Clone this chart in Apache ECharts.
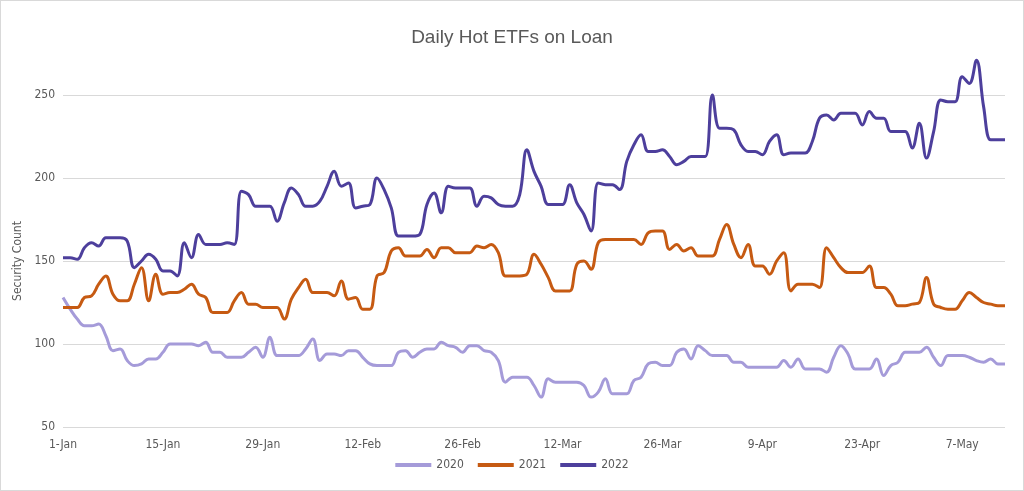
<!DOCTYPE html>
<html lang="en">
<head>
    <meta charset="UTF-8">
    <title>Daily Hot ETFs on Loan</title>
    <script src="https://cdn.jsdelivr.net/npm/echarts@6/dist/echarts.min.js"></script>
    <style>
        html, body { margin: 0; padding: 0; background: #fff; }
        #main { width: 1022px; height: 489px; border: 1px solid #d9d9d9; }
    </style>
</head>
<body>
<div id="main"></div>
<script>
    // one point per calendar day, 1-Jan .. 13-May
    const months = ['Jan', 'Feb', 'Mar', 'Apr', 'May'];
    const monthDays = [31, 28, 31, 30, 13];
    const days = [];
    for (let m = 0; m < months.length; m++) {
        for (let d = 1; d <= monthDays[m]; d++) days.push(d + '-' + months[m]);
    }

    const y2020 = [128,121,115,111,111,112,105,96,97,90,87,88,91,91,95,100,100,100,100,99,101,95,95,92,92,92,95,98,92,104,
        93,93,93,93,97,103,90,94,94,93,96,96,92,88,87,87,87,95,96,92,95,97,97,101,99,98,95,99,99,96,
        95,90,77,80,80,80,75,68,79,77,77,77,77,75,68,71,79,70,70,70,78,80,88,89,87,87,95,97,91,99,
        96,93,93,93,89,89,86,86,86,86,86,90,86,91,85,85,85,83,92,99,94,85,85,85,91,81,87,89,95,95,
        95,98,92,87,93,93,93,92,90,89,91,88,88];
    const y2021 = [122,122,122,128,129,136,141,130,126,126,136,146,126,142,130,131,131,133,136,130,128,119,119,119,126,131,124,124,122,122,
        122,115,127,134,139,131,131,131,129,138,127,128,121,121,141,143,156,158,153,153,153,157,152,158,158,155,155,155,159,158,
        160,155,141,141,141,142,154,148,140,132,132,132,148,150,145,161,163,163,163,163,163,160,167,168,168,157,160,156,158,153,
        153,153,163,172,160,152,160,147,147,142,150,155,132,136,136,136,134,158,152,146,143,143,143,147,134,134,130,123,123,124,
        125,140,124,122,121,121,126,131,128,125,124,123,123];
    const y2022 = [152,152,151,158,161,159,164,164,164,162,146,150,154,151,144,144,141,161,152,166,160,160,160,161,160,192,190,183,183,183,
        174,185,194,190,183,183,186,195,204,195,197,182,183,184,200,193,182,165,165,165,166,184,191,179,195,194,194,194,183,189,
        188,184,183,183,190,217,204,195,184,184,184,196,185,178,168,197,196,196,193,210,220,226,216,216,217,213,208,210,213,213,
        213,250,230,230,229,220,216,216,214,222,226,214,215,215,215,222,236,238,235,239,239,239,232,240,236,236,228,228,228,218,
        233,212,228,247,246,246,261,257,271,243,223,223,223];

    const seriesNames = ['2020', '2021', '2022'];
    const seriesData = [y2020, y2021, y2022];
    const colors = ['#a59bd9', '#c65a12', '#4d3f9c'];

    const font = "'Liberation Sans Narrow', 'DejaVu Sans Condensed', 'Liberation Sans', sans-serif";

    let myChart = echarts.init(document.getElementById('main'));
    let option = {
        animation: false,
        title: {
            text: 'Daily Hot ETFs on Loan',
            left: 'center',
            top: 22,
            textStyle: { color: '#595959', fontSize: 19, fontWeight: 'normal', fontFamily: 'Liberation Sans' }
        },
        legend: {
            bottom: 14,
            itemWidth: 36,
            itemHeight: 4,
            itemGap: 14,
            icon: 'rect',
            textStyle: { color: '#595959', fontSize: 12, fontFamily: font },
            data: seriesNames
        },
        grid: { left: 62, right: 18, top: 94, bottom: 63 },
        xAxis: {
            type: 'category',
            boundaryGap: false,
            data: days,
            axisLine: { show: false },
            axisTick: { show: false },
            axisLabel: { interval: 13, color: '#595959', fontSize: 12, fontFamily: font, margin: 12 }
        },
        yAxis: {
            type: 'value',
            min: 50,
            max: 250,
            interval: 50,
            name: 'Security Count',
            nameLocation: 'middle',
            nameGap: 36,
            nameTextStyle: { color: '#595959', fontSize: 12, fontFamily: font },
            axisLabel: { color: '#595959', fontSize: 12, fontFamily: font },
            splitLine: { lineStyle: { color: '#d9d9d9' } }
        },
        series: seriesNames.map((n, i) => ({
            name: n,
            type: 'line',
            data: seriesData[i],
            smooth: 0.4,
            showSymbol: false,
            clip: false,
            lineStyle: { width: 3, color: colors[i] },
            itemStyle: { color: colors[i] }
        }))
    };
    myChart.setOption(option);
</script>
</body>
</html>
